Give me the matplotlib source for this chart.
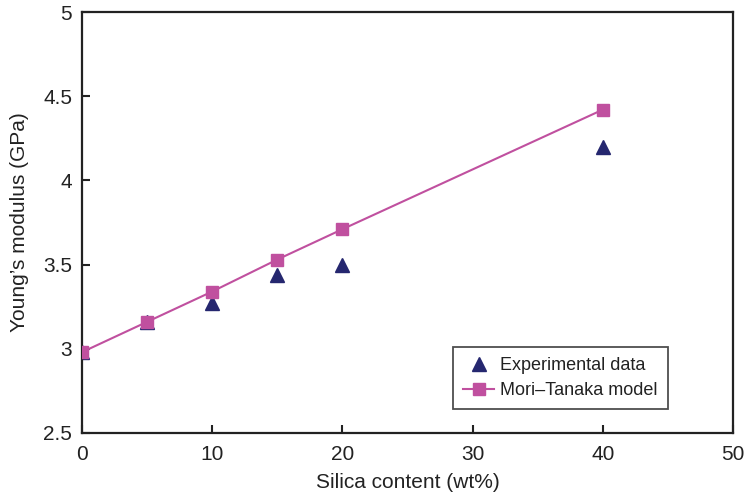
import matplotlib
matplotlib.use("Agg")
import matplotlib.pyplot as plt

plt.rcParams['font.family'] = ['Liberation Sans', 'DejaVu Sans']

silica = [0, 5, 10, 15, 20, 40]
experimental = [2.98, 3.16, 3.27, 3.44, 3.50, 4.20]
mori_tanaka = [2.98, 3.16, 3.34, 3.53, 3.71, 4.42]
xticks = [0, 10, 20, 30, 40, 50]
yticks = [2.5, 3, 3.5, 4, 4.5, 5]
yticklabels = ["2.5", "3", "3.5", "4", "4.5", "5"]

fig = plt.figure(figsize=(7.48, 5.0), dpi=100)
ax = fig.add_axes([0.1096, 0.134, 0.8703, 0.842])

ax.plot(silica, experimental, linestyle='none', marker='^', markersize=10,
        color='#25276f', label='Experimental data', zorder=2)
ax.plot(silica, mori_tanaka, linestyle='-', linewidth=1.5, marker='s', markersize=9,
        color='#c0509f', label='Mori\u2013Tanaka model', zorder=3)

ax.set_xlim(0, 50)
ax.set_ylim(2.5, 5)
ax.set_xticks(xticks)
ax.set_yticks(yticks)
ax.set_yticklabels(yticklabels)
ax.tick_params(direction='in', length=6, width=1.5, labelsize=15,
               top=False, right=False, colors='#222222')
ax.tick_params(axis='x', pad=9)
ax.tick_params(axis='y', pad=7)
for s in ax.spines.values():
    s.set_linewidth(1.6)
    s.set_color('#222222')

ax.set_xlabel('Silica content (wt%)', fontsize=15, labelpad=6, color='#222222')
ax.set_ylabel('Young\u2019s modulus (GPa)', fontsize=15, labelpad=10, color='#222222')

leg = ax.legend(loc='lower right', bbox_to_anchor=(0.900, 0.057), fontsize=13,
                frameon=True, fancybox=False, edgecolor='#222222',
                borderaxespad=0, handlelength=1.7, handletextpad=0.35,
                borderpad=0.55, labelspacing=0.45)
leg.get_frame().set_linewidth(1.3)
for t in leg.get_texts():
    t.set_color('#222222')

fig.savefig('out.png', dpi=100)
